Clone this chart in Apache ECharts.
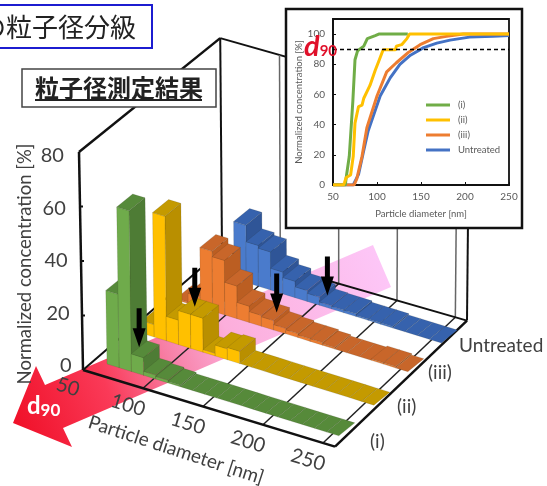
<!DOCTYPE html>
<html>
<head>
<meta charset="utf-8">
<title>粒子径測定結果</title>
<script src="https://cdn.jsdelivr.net/npm/echarts@6/dist/echarts.min.js"></script>
<style>
html, body { margin: 0; padding: 0; background: #fff; }
#chart { width: 547px; height: 486px; }
</style>
</head>
<body>
<div id="chart"></div>
<script>
// histogram rows, front to back (bin = lower edge, 10 nm wide)
const seriesNames = ['(i)', '(ii)', '(iii)', 'Untreated'];
const bins = [60, 70, 80, 90, 100, 110, 120, 130, 140, 150, 160, 170, 180, 190, 200, 210, 220, 230, 240];
const histI = [27, 59, 6.5, 1.5, 1, 0.5, 0, 0, 0, 0, 0, 0, 0, 0, 0, 0, 0, 0, 0];
const histII = [4.6, 45.7, 9, 12.5, 12.5, 1, 4, 4.5, 0, 0, 0, 0, 0, 0, 0, 0, 0, 0, 0];
const histIII = [0.5, 3.8, 22, 20, 12, 6, 4, 3.5, 2, 1.5, 1, 1, 0.5, 0, 0, 0, 0.5, 0.5, 0];
const histUntreated = [0, 1, 21, 15, 14, 8, 6, 4, 3, 1.2, 1, 1, 0.5, 0.5, 0.5, 0, 0, 0, 0];
const d90Values = [80, 97, 136, 150];

const xTicks = [50, 100, 150, 200, 250];
const yTicks = [0, 20, 40, 60, 80];

// cumulative curves of the inset: [diameter, %]
const cumI = [[50, 0], [64, 0], [65, 5], [68.5, 19], [72.6, 56], [75, 83], [78, 89], [85, 92], [89, 97], [98, 99], [102, 100], [135, 100]];
const cumII = [[50, 0], [62, 0], [63, 1.5], [65, 5], [70, 6.6], [73, 19], [75, 41], [79, 52], [83, 53], [85, 57.5], [92, 66], [98, 76], [102, 82], [107, 89.6], [121, 89.6], [122, 92], [128, 93], [134, 97], [137, 100], [250, 100]];
const cumIII = [[50, 0], [74, 0], [77, 4], [83, 19], [88.5, 38], [100, 59], [111, 75], [122, 81], [136, 88], [149, 93], [164, 97], [179, 98.5], [198, 100], [250, 100]];
const cumUntreated = [[50, 0], [73, 0], [75, 1], [79, 7], [85, 23], [90, 36], [103.6, 59], [115, 71], [126, 80], [138, 86], [153, 91], [168, 94], [183, 96], [205, 98], [232, 98.5], [250, 99]];

const latin = 'Lato, "Noto Sans", sans-serif';
const cjk = '"Noto Sans CJK JP", sans-serif';
const textGrey = '#404040';

// where each row sits on the floor, and how its bars are coloured
const rows = [
    { x: 107, y: 364, front: '#6fab4b', top: '#568a3a', side: '#4e7c35', labelX: 370, labelY: 442, hist: histI },
    { x: 142, y: 333.3, front: '#ffc000', top: '#c49a00', side: '#b98f00', labelX: 397, labelY: 407, hist: histII },
    { x: 176, y: 299.8, front: '#ed7d31', top: '#c8662a', side: '#bb5e22', labelX: 428, labelY: 373, hist: histIII },
    { x: 209.6, y: 271.2, front: '#4a7bcc', top: '#3662ad', side: '#2f5597', labelX: 459, labelY: 346, hist: histUntreated }
];
const barDepth = [16, -13];

function lean(x, v) {
    return v * 0.05 * (x - 333) / 250;
}

// oblique projection of the hidden grid: floor runs downhill to the right
function framePoint(api, d, v, f) {
    const c = api.coord([d, v]);
    const base = api.coord([d, 0]);
    const t = (d - 50) / 210;
    const x = c[0] + f * (139 - 7 * t);
    const y = c[1] + (c[0] - 83) * 0.304 + f * (-120 - 6 * t) + f * (base[1] - c[1]) * 0.028;
    return [x + lean(x, v), y];
}

function rowPoint(api, row, d, v) {
    const base = api.coord([d, 0]);
    const start = api.coord([bins[0], 0]);
    const top = api.coord([d, v]);
    const x = row.x + (base[0] - start[0]) * 1.0167;
    const y = row.y + (x - row.x) * 0.31 - (base[1] - top[1]);
    return [x + lean(x, v), y];
}

function line(a, b, color, width) {
    return {
        type: 'line',
        shape: { x1: a[0], y1: a[1], x2: b[0], y2: b[1] },
        style: { stroke: color, lineWidth: width }
    };
}

function label(text, x, y, size, rotation, align, extra) {
    return {
        type: 'text',
        x: x,
        y: y,
        rotation: rotation || 0,
        style: Object.assign({
            text: text,
            fill: textGrey,
            fontFamily: latin,
            fontSize: size,
            align: align || 'center',
            verticalAlign: 'middle'
        }, extra)
    };
}

function renderFrame(params, api) {
    const kids = [];
    const p = (d, v, f) => framePoint(api, d, v, f);
    const dMax = 260;
    // back walls
    kids.push(line(p(50, 0, 1), p(50, 80, 1), '#111', 2));
    kids.push(line(p(dMax, 0, 1), p(dMax, 80, 1), '#111', 2));
    kids.push(line(p(50, 80, 1), p(dMax, 80, 1), '#111', 2));
    kids.push(line(p(50, 80, 0), p(50, 80, 1), '#111', 2.5));
    xTicks.slice(1).forEach(d => {
        kids.push(line(p(d, 0, 1), p(d, 80, 1), '#666', 1.5));
        kids.push(line(p(d, 0, 0), p(d, 0, 1), '#222', 1.5));
    });
    // floor
    kids.push(line(p(50, 0, 0), p(50, 0, 1), '#111', 2));
    kids.push(line(p(50, 0, 1), p(dMax, 0, 1), '#111', 2));
    kids.push(line(p(dMax, 0, 0), p(dMax, 0, 1), '#111', 2.5));
    kids.push(line(p(50, 0, 0), p(dMax, 0, 0), '#111', 2.5));
    kids.push(line(p(50, 0, 0), p(50, 80, 0), '#111', 2.5));

    yTicks.forEach(v => {
        const t = p(50, v, 0);
        if (v > 0 && v < 80) kids.push(line(t, [t[0] + 3, t[1]], '#111', 2));
        kids.push(label(String(v), 71.5 - 0.095 * v, t[1] - 4 + 0.1 * v, 20, 0, 'right'));
    });
    xTicks.forEach(d => {
        const t = p(d, 0, 0);
        kids.push(label(String(d), t[0] - 15, t[1] + 17, 20, -17 * Math.PI / 180));
    });
    kids.push(label('Normalized concentration [%]', 25, 264, 18.5, Math.PI / 2));
    kids.push(label('Particle diameter [nm]', 176, 450, 19, -18 * Math.PI / 180));
    rows.forEach((row, i) => {
        kids.push(label(seriesNames[i], row.labelX, row.labelY, 19, 0, 'left'));
    });
    return { type: 'group', children: kids };
}

function renderBar(row) {
    return function (params, api) {
        const d = api.value(0);
        const v = api.value(1);
        const width = 10;
        const a = rowPoint(api, row, d, 0);
        const b = rowPoint(api, row, d + width, 0);
        const c = rowPoint(api, row, d + width, v);
        const e = rowPoint(api, row, d, v);
        const back = pt => [pt[0] + barDepth[0], pt[1] + barDepth[1]];
        const edge = { stroke: 'rgba(50,50,30,0.22)', lineWidth: 0.6 };
        const children = [];
        if (v > 0) {
            children.push({ type: 'polygon', shape: { points: [b, c, back(c), back(b)] }, style: Object.assign({ fill: row.side }, edge) });
            children.push({ type: 'polygon', shape: { points: [a, b, c, e] }, style: Object.assign({ fill: row.front }, edge) });
        }
        children.push({ type: 'polygon', shape: { points: [e, c, back(c), back(e)] }, style: Object.assign({ fill: row.top }, edge) });
        return { type: 'group', children: children };
    };
}

function renderArrow(params, api) {
    const row = rows[api.value(0)];
    const d = api.value(1);
    const idx = bins.findIndex(b => d >= b && d < b + 10);
    const pt = rowPoint(api, row, d, row.hist[idx]);
    const tipX = pt[0] + barDepth[0] / 2;
    const tipY = pt[1] + barDepth[1] / 2;
    return {
        type: 'polygon',
        shape: {
            points: [
                [tipX, tipY], [tipX - 6.5, tipY - 19], [tipX - 2.5, tipY - 19], [tipX - 2.5, tipY - 39],
                [tipX + 2.5, tipY - 39], [tipX + 2.5, tipY - 19], [tipX + 6.5, tipY - 19]
            ]
        },
        style: { fill: '#000' }
    };
}

const chart = echarts.init(document.getElementById('chart'));

const barSeries = rows.map((row, i) => ({
    type: 'custom',
    name: 'hist ' + seriesNames[i],
    xAxisIndex: 0,
    yAxisIndex: 0,
    z: 6 - i,
    clip: false,
    renderItem: renderBar(row),
    data: bins.map((b, k) => [b, row.hist[k]]),
    encode: { x: 0, y: 1 }
})).reverse();

function curve(name, color, data, extra) {
    return Object.assign({
        type: 'line',
        name: name,
        xAxisIndex: 1,
        yAxisIndex: 1,
        z: 20,
        symbol: 'none',
        showSymbol: false,
        lineStyle: { color: color, width: 3 },
        itemStyle: { color: color },
        data: data
    }, extra);
}

chart.setOption({
    animation: false,
    backgroundColor: '#fff',
    grid: [
        { left: 83, width: 252, top: 152, height: 218, show: false },
        { left: 333, width: 176, top: 19, height: 166, show: true, z: 16, backgroundColor: 'transparent', borderColor: '#111', borderWidth: 1.8 }
    ],
    xAxis: [
        { gridIndex: 0, type: 'value', min: 50, max: 260, show: false },
        {
            gridIndex: 1, type: 'value', min: 50, max: 250, interval: 50, z: 18,
            name: 'Particle diameter [nm]', nameLocation: 'middle', nameGap: 24,
            nameTextStyle: { color: '#595959', fontFamily: latin, fontSize: 9.5 },
            axisLine: { lineStyle: { color: '#111', width: 1.8 } },
            axisTick: { inside: true, length: 3, lineStyle: { color: '#111' } },
            axisLabel: { color: '#595959', fontFamily: latin, fontSize: 10, margin: 7 },
            splitLine: { show: false }
        }
    ],
    yAxis: [
        { gridIndex: 0, type: 'value', min: 0, max: 80, show: false },
        {
            gridIndex: 1, type: 'value', min: 0, max: 110, interval: 20, z: 18,
            name: 'Normalized concentration [%]', nameLocation: 'middle', nameGap: 28,
            nameTextStyle: { color: '#595959', fontFamily: latin, fontSize: 9.5 },
            axisLine: { show: true, lineStyle: { color: '#111', width: 1.8 } },
            axisTick: { show: true, inside: true, length: 3, lineStyle: { color: '#111' } },
            axisLabel: { color: '#595959', fontFamily: latin, fontSize: 10, margin: 8, showMaxLabel: false },
            splitLine: { show: false }
        }
    ],
    legend: {
        data: seriesNames,
        orient: 'vertical',
        left: 426,
        top: 100,
        z: 22,
        padding: 0,
        icon: 'rect',
        itemWidth: 24,
        itemHeight: 3,
        itemGap: 5,
        textStyle: { color: '#595959', fontFamily: latin, fontSize: 9.5, padding: [0, 0, 0, 3] }
    },
    graphic: [
        // d90 band on the floor, ending in the red arrow
        {
            type: 'polygon', z: 1,
            shape: { points: [[13, 423], [36, 366], [45, 385], [373, 245], [391, 287], [63, 428], [72, 447]] },
            style: {
                fill: {
                    type: 'linear', global: true, x: 13, y: 423, x2: 382, y2: 266,
                    colorStops: [
                        { offset: 0, color: '#f01028' },
                        { offset: 0.25, color: '#fa3a58' },
                        { offset: 0.42, color: '#f77fa5' },
                        { offset: 0.58, color: '#fcaedb' },
                        { offset: 1, color: '#fdc6f7' }
                    ]
                }
            }
        },
        {
            type: 'text', z: 9, x: 27, y: 394,
            style: {
                text: '{a|d}{b|90}',
                rich: {
                    a: { fontFamily: latin, fontSize: 24, fontWeight: 'bold', fill: '#fff', color: '#fff' },
                    b: { fontFamily: latin, fontSize: 17, fontWeight: 'bold', fill: '#fff', color: '#fff', padding: [8, 0, 0, 0] }
                }
            }
        },
        // title boxes
        { type: 'rect', z: 12, shape: { x: -4, y: 5, width: 156, height: 43 }, style: { fill: '#fff', stroke: '#1c1cd0', lineWidth: 2 } },
        { type: 'text', z: 13, x: 136, y: 27, style: { text: 'の粒子径分級', font: '26px ' + cjk, fill: '#222', align: 'right', verticalAlign: 'middle' } },
        { type: 'rect', z: 12, shape: { x: 22, y: 69, width: 194, height: 38 }, style: { fill: '#fff', stroke: '#444', lineWidth: 1.5 } },
        { type: 'text', z: 13, x: 119, y: 88, style: { text: '粒子径測定結果', font: 'bold 24px ' + cjk, fill: '#222', align: 'center', verticalAlign: 'middle' } },
        { type: 'line', z: 13, shape: { x1: 35, y1: 100, x2: 202, y2: 100 }, style: { stroke: '#222', lineWidth: 2 } },
        // inset panel
        { type: 'rect', z: 14, shape: { x: 286, y: 9, width: 236, height: 219 }, style: { fill: '#fff', stroke: '#111', lineWidth: 2.5 } },
        {
            type: 'text', z: 24, x: 304, y: 32,
            style: {
                text: '{a|d}{b|90}',
                rich: {
                    a: { fontFamily: latin, fontSize: 29, fontWeight: 'bold', fontStyle: 'italic', fill: '#e0102a', color: '#e0102a' },
                    b: { fontFamily: latin, fontSize: 15, fontWeight: 'bold', fill: '#e0102a', color: '#e0102a', padding: [10, 0, 0, 0] }
                }
            }
        }
    ],
    series: [
        {
            type: 'custom',
            name: 'frame',
            xAxisIndex: 0,
            yAxisIndex: 0,
            z: 2,
            clip: false,
            renderItem: renderFrame,
            data: [[50, 0]],
            encode: { x: 0, y: 1 }
        },
        ...barSeries,
        {
            type: 'custom',
            name: 'd90 arrows',
            xAxisIndex: 0,
            yAxisIndex: 0,
            z: 8,
            clip: false,
            renderItem: renderArrow,
            data: d90Values.map((d, i) => [i, d]),
            encode: { x: 1 }
        },
        curve('Untreated', '#4472c4', cumUntreated, {
            markLine: {
                z: 21,
                silent: true,
                symbol: 'none',
                label: { show: false },
                lineStyle: { color: '#000', type: [4, 3], width: 1.3 },
                data: [{ yAxis: 90 }]
            }
        }),
        curve('(iii)', '#ed7d31', cumIII),
        curve('(i)', '#70ad47', cumI),
        curve('(ii)', '#ffc000', cumII)
    ]
});

window.addEventListener('resize', () => chart.resize());
</script>
</body>
</html>
